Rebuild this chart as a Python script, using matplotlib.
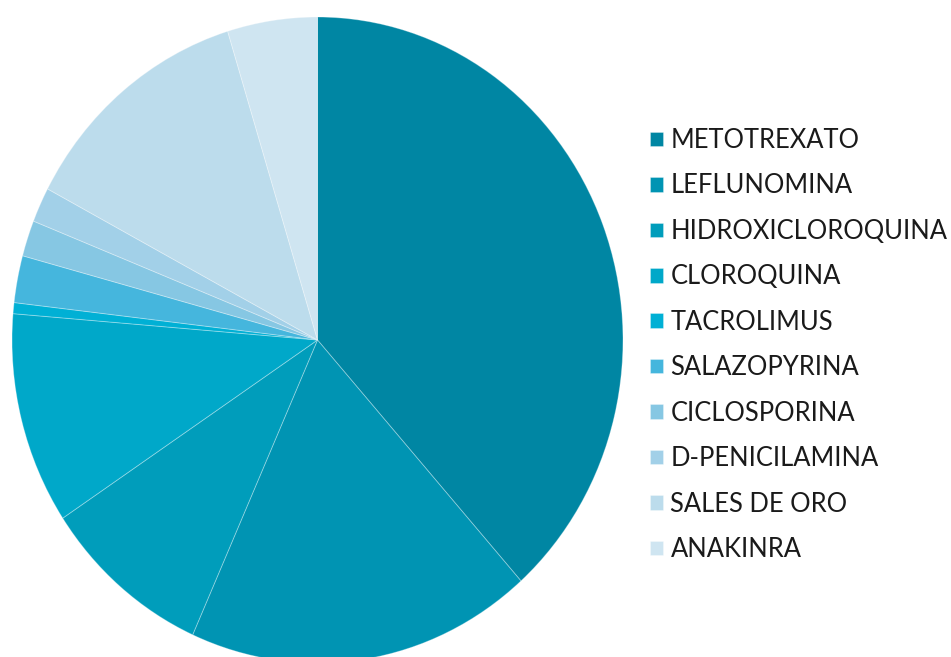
import matplotlib
matplotlib.use("Agg")
import matplotlib.pyplot as plt

labels = ["METOTREXATO", "LEFLUNOMINA", "HIDROXICLOROQUINA", "CLOROQUINA",
          "TACROLIMUS", "SALAZOPYRINA", "CICLOSPORINA", "D-PENICILAMINA",
          "SALES DE ORO", "ANAKINRA"]
values = [38.4, 18.3, 9.0, 10.6, 0.55, 2.35, 1.8, 1.75, 12.5, 4.75]
colors = ["#0086a3", "#0094b3", "#009dbb", "#00a8c9", "#00b0d5",
          "#45b6dd", "#86c7e3", "#a2d0e8", "#bcdcec", "#cfe5f1"]

W, H = 951, 657
fig = plt.figure(figsize=(W / 100, H / 100), dpi=100)
plt.rcParams['font.family'] = ['Lato', 'DejaVu Sans']

# pie ellipse: x 12..623, y(top) 17..663
left, right, top, bottom = 12, 623, 17, 663
ax = fig.add_axes([left / W, (H - bottom) / H, (right - left) / W, (bottom - top) / H])
wedges, _ = ax.pie(values, colors=colors, startangle=90, counterclock=False,
                   radius=1, wedgeprops=dict(edgecolor=(1, 1, 1, 0.3), linewidth=0.7))
ax.set_aspect('auto')
ax.set_xlim(-1, 1)
ax.set_ylim(-1, 1)
ax.axis('off')

leg = fig.legend(wedges, labels, loc='upper left',
                 bbox_to_anchor=(650 / W, 1 - 128 / H),
                 frameon=False, fontsize=18.4, handlelength=0.5, handleheight=0.5,
                 handletextpad=0.3, labelspacing=0.80, borderpad=0, borderaxespad=0)
for t in leg.get_texts():
    t.set_color("#1a1a1a")

fig.savefig("out.png", dpi=100)
